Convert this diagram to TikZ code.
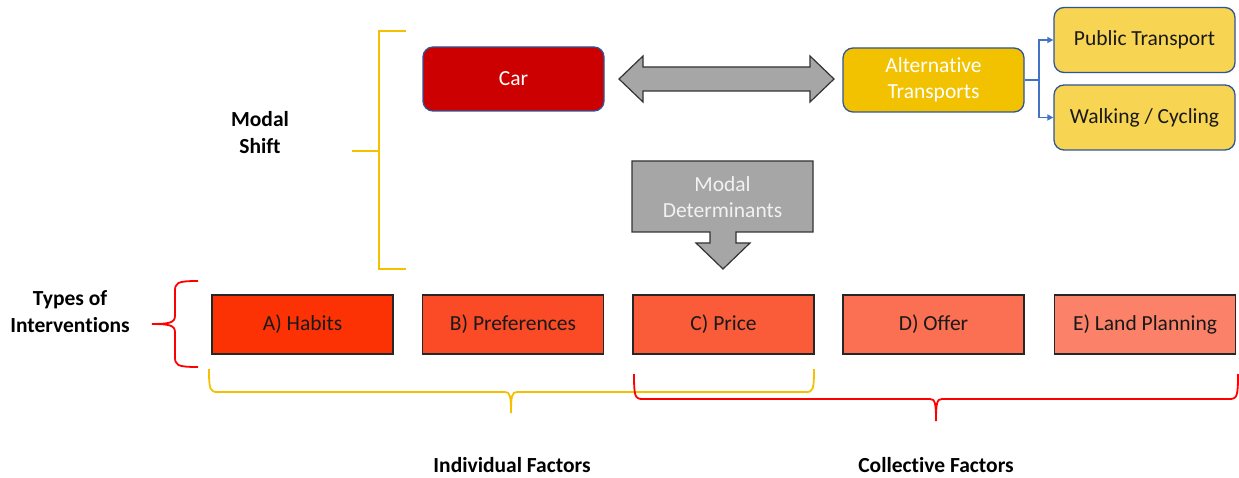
\documentclass[tikz,border=0pt]{standalone}
\usepackage{fontspec}
\setmainfont[Ligatures=NoCommon]{Carlito}
\usetikzlibrary{arrows.meta}
\definecolor{ybr}{HTML}{F5C000}
\definecolor{rbr}{HTML}{FF0000}
\definecolor{carfill}{HTML}{CC0000}
\definecolor{altfill}{HTML}{F2C200}
\definecolor{ptfill}{HTML}{F7D452}
\definecolor{rbord}{HTML}{2F5597}
\definecolor{grayfill}{HTML}{A6A6A6}
\definecolor{grayline}{HTML}{333333}
\definecolor{conn}{HTML}{4472C4}
\definecolor{fa}{HTML}{FC3204}
\definecolor{fb}{HTML}{FA4A26}
\definecolor{fc}{HTML}{FA5C3A}
\definecolor{fd}{HTML}{FB6F52}
\definecolor{fe}{HTML}{FB8169}
\tikzset{
  txt/.style={font=\fontsize{21.5}{26}\selectfont, align=center},
  btxt/.style={font=\fontsize{21.5}{27}\selectfont\bfseries, align=center},
  rbox/.style={txt, draw=rbord, line width=1.3pt, rounded corners=10pt, minimum width=181pt, inner sep=0pt},
  sbox/.style={txt, draw=black!85, line width=1.2pt, minimum width=181pt, minimum height=59pt, inner sep=0pt, text=black!90},
  garrow/.style={fill=grayfill, draw=grayline, line width=1.2pt, line join=miter},
  ybrace/.style={draw=ybr, line width=1.8pt},
  rbrace/.style={draw=rbr, line width=1.8pt},
  conline/.style={draw=conn, line width=1.5pt, -{Triangle[length=6pt,width=6pt]}}
}
\begin{document}
\begin{tikzpicture}[x=1pt,y=-1pt]
\useasboundingbox (0,0) rectangle (1239,478);
% Modal shift bracket
\draw[ybrace] (406,31) -- (379,31) -- (379,269) -- (406,269);
\draw[ybrace] (352,151) -- (379,151);
\node[btxt] (ms) at (260,133) {Modal\\Shift};
% top row
\node[rbox, fill=carfill, text=white, minimum height=64pt] (car) at (513.5,79) {Car};
\node[rbox, fill=altfill, text=white, minimum height=64pt] (alt) at (933.5,80) {Alternative\\Transports};
\node[rbox, fill=ptfill, text=black!90, minimum height=65pt] (pt) at (1144.5,40) {Public Transport};
\node[rbox, fill=ptfill, text=black!90, minimum height=65pt] (wc) at (1144.5,117.5) {Walking / Cycling};
\coordinate (split) at (1039,80);
\draw[conline] (alt.east) -- (split) |- (pt.west);
\draw[conline] (alt.east) -- (split) |- (wc.west);
% double arrow
\draw[garrow] (619,79) -- (643,56) -- (643,67) -- (810,67) -- (810,56) -- (834,79) -- (810,102) -- (810,91) -- (643,91) -- (643,102) -- cycle;
% modal determinants callout
\draw[garrow] (632,161) -- (813,161) -- (813,232) -- (736,232) -- (736,243) -- (750,243) -- (723,269) -- (696,243) -- (710,243) -- (710,232) -- (632,232) -- cycle;
\node[txt, text=white!95!black] (md) at (722.5,197.5) {Modal\\Determinants};
% types of interventions
\node[btxt] (ti) at (70,312) {Types of\\Interventions};
\draw[rbrace] (198,281) .. controls (176,281) and (175,283) .. (175,292) -- (175,316) .. controls (175,323) and (168,324) .. (152,324) .. controls (168,324) and (175,325) .. (175,332) -- (175,356) .. controls (175,365) and (176,367) .. (198,367);
% bottom boxes
\node[sbox, fill=fa] (a) at (302.5,324.5) {A) Habits};
\node[sbox, fill=fb] (b) at (513,324.5) {B) Preferences};
\node[sbox, fill=fc] (c) at (723.5,324.5) {C) Price};
\node[sbox, fill=fd] (d) at (933.5,324.5) {D) Offer};
\node[sbox, fill=fe] (e) at (1145,324.5) {E) Land Planning};
% bottom braces
\draw[ybrace] (209,369) .. controls (209,390) and (210,392) .. (218,392) -- (505,392) .. controls (510,392) and (511,396) .. (511,413) .. controls (511,396) and (512,392) .. (517,392) -- (806,392) .. controls (813,392) and (814,390) .. (814,369);
\draw[rbrace] (634,374) .. controls (634,397) and (635,399) .. (643,399) -- (930,399) .. controls (935,399) and (936,403) .. (936,421) .. controls (936,403) and (937,399) .. (942,399) -- (1229,399) .. controls (1237,399) and (1238,397) .. (1238,374);
\node[btxt] (ind) at (512,465) {Individual Factors};
\node[btxt] (col) at (936,465) {Collective Factors};
\end{tikzpicture}
\end{document}
